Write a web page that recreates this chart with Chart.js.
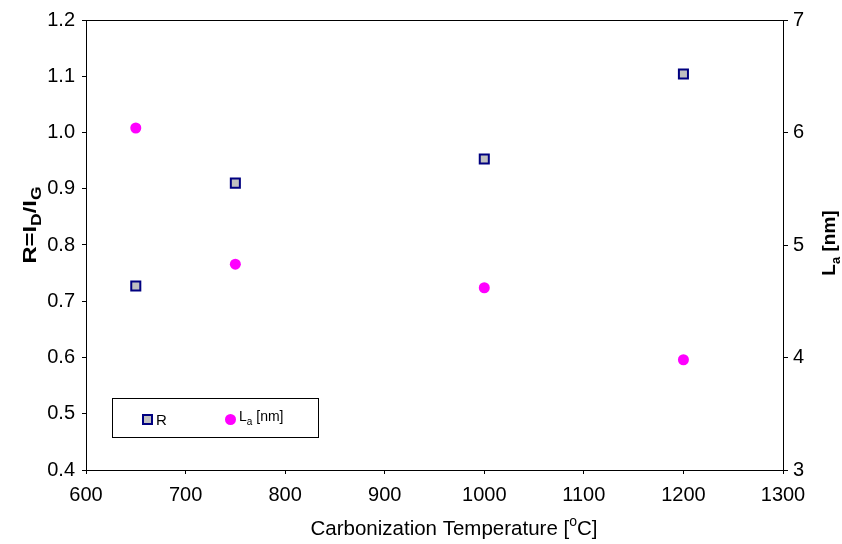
<!DOCTYPE html>
<html>
<head>
<meta charset="utf-8">
<script src="https://cdn.jsdelivr.net/npm/chart.js@4.4.1/dist/chart.umd.min.js"></script>
<style>
  html, body { margin: 0; padding: 0; background: #fff; }
  #wrap { width: 842px; height: 544px; }
</style>
</head>
<body>
<div id="wrap"><canvas id="ramanChart" width="842" height="544"></canvas></div>
<script>
// carbonization temperature (deg C)
const temps = [650, 750, 1000, 1200];
// R = I_D / I_G (left axis)
const ratioR = [0.727, 0.910, 0.953, 1.104];
// L_a in nm (right axis)
const crystalLa = [6.04, 4.83, 4.62, 3.98];

const xTicks = { min: 600, max: 1300, step: 100 };
const yLeftTicks = { min: 0.4, max: 1.2, step: 0.1 };
const yRightTicks = { min: 3, max: 7, step: 1 };

const FONT = '"Liberation Sans", Arial, sans-serif';
const SQ_FILL = '#c0c0c0';
const SQ_EDGE = '#000080';
const MAGENTA = '#ff00ff';

// draws text made of pieces, some as sub- or superscripts
function richText(ctx, parts, x, y, size, weight, align, subScale) {
  const k = subScale || 0.68;
  const pieceFont = p => {
    const s = p.s ? Math.round(size * k) : size;
    return weight + ' ' + s + 'px ' + FONT;
  };
  let total = 0;
  parts.forEach(p => { ctx.font = pieceFont(p); total += ctx.measureText(p.t).width; });
  let cx = align === 'center' ? x - total / 2 : x;
  ctx.textBaseline = 'alphabetic';
  ctx.textAlign = 'left';
  parts.forEach(p => {
    ctx.font = pieceFont(p);
    let dy = 0;
    if (p.s === 'sub') dy = size * 0.28;
    if (p.s === 'sup') dy = -size * 0.42;
    ctx.fillText(p.t, cx, y + dy);
    cx += ctx.measureText(p.t).width;
  });
}

const decorations = {
  id: 'decorations',
  afterDraw(chart) {
    const ctx = chart.ctx;
    const a = chart.chartArea;
    ctx.save();
    ctx.strokeStyle = '#000';
    ctx.lineWidth = 1;
    ctx.strokeRect(Math.round(a.left) + 0.5, Math.round(a.top) + 0.5,
      Math.round(a.right - a.left), Math.round(a.bottom - a.top));
    ctx.fillStyle = '#000';

    // left title
    ctx.save();
    ctx.translate(36, 225);
    ctx.rotate(-Math.PI / 2);
    ctx.scale(1.25, 1);
    richText(ctx, [{ t: 'R=I' }, { t: 'D', s: 'sub' }, { t: '/I' }, { t: 'G', s: 'sub' }], 0, 0, 19, 'bold', 'center', 0.72);
    ctx.restore();

    // right title
    ctx.save();
    ctx.translate(835, 243);
    ctx.rotate(-Math.PI / 2);
    richText(ctx, [{ t: 'L' }, { t: 'a', s: 'sub' }, { t: ' [nm]' }], 0, 0, 19, 'bold', 'center');
    ctx.restore();

    // x title
    richText(ctx, [{ t: 'Carbonization Temperature [' }, { t: 'o', s: 'sup' }, { t: 'C]' }], 454, 535, 20.5, 'normal', 'center');

    // legend box
    ctx.strokeRect(112.5, 398.5, 206, 39);
    ctx.fillStyle = SQ_FILL;
    ctx.fillRect(143, 415, 9, 9);
    ctx.strokeStyle = SQ_EDGE;
    ctx.lineWidth = 2;
    ctx.strokeRect(143, 415, 9, 9);
    ctx.fillStyle = MAGENTA;
    ctx.beginPath();
    ctx.arc(230.5, 419.5, 5.5, 0, Math.PI * 2);
    ctx.fill();
    ctx.fillStyle = '#000';
    richText(ctx, [{ t: 'R' }], 156, 425, 15, 'normal', 'left');
    richText(ctx, [{ t: 'L' }, { t: 'a', s: 'sub' }, { t: ' [nm]' }], 239, 421, 14, 'normal', 'left');
    ctx.restore();
  }
};

const tickFont = { family: FONT, size: 20 };

new Chart(document.getElementById('ramanChart').getContext('2d'), {
  type: 'scatter',
  data: {
    datasets: [{
      label: 'R',
      data: temps.map((t, i) => ({ x: t, y: ratioR[i] })),
      yAxisID: 'y',
      pointStyle: 'rect',
      pointRadius: 6.4,
      pointHoverRadius: 6.4,
      backgroundColor: SQ_FILL,
      borderColor: SQ_EDGE,
      borderWidth: 2
    }, {
      label: 'La [nm]',
      data: temps.map((t, i) => ({ x: t, y: crystalLa[i] })),
      yAxisID: 'y2',
      pointStyle: 'circle',
      pointRadius: 5.5,
      pointHoverRadius: 5.5,
      backgroundColor: MAGENTA,
      borderColor: MAGENTA,
      borderWidth: 0
    }]
  },
  options: {
    responsive: false,
    animation: false,
    layout: { padding: { top: 20, left: 0, right: 0, bottom: 0 } },
    plugins: { legend: { display: false }, tooltip: { enabled: false } },
    scales: {
      x: {
        type: 'linear',
        min: xTicks.min, max: xTicks.max,
        ticks: { stepSize: xTicks.step, color: '#000', font: tickFont, padding: 9, maxRotation: 0,
          callback: v => String(v) },
        grid: { drawOnChartArea: false, drawTicks: true, tickLength: 4, color: '#000' },
        border: { display: true, color: '#000' },
        afterFit(s) { s.height = 74; }
      },
      y: {
        position: 'left',
        min: yLeftTicks.min, max: yLeftTicks.max,
        ticks: { stepSize: yLeftTicks.step, color: '#000', font: tickFont, padding: 7,
          callback: v => Number(v).toFixed(1) },
        grid: { drawOnChartArea: false, drawTicks: true, tickLength: 4, color: '#000' },
        border: { display: true, color: '#000' },
        afterFit(s) { s.width = 86; }
      },
      y2: {
        position: 'right',
        min: yRightTicks.min, max: yRightTicks.max,
        ticks: { stepSize: yRightTicks.step, color: '#000', font: tickFont, padding: 5 },
        grid: { drawOnChartArea: false, drawTicks: true, tickLength: 5, color: '#000' },
        border: { display: true, color: '#000' },
        afterFit(s) { s.width = 59; }
      }
    }
  },
  plugins: [decorations]
});
</script>
</body>
</html>
